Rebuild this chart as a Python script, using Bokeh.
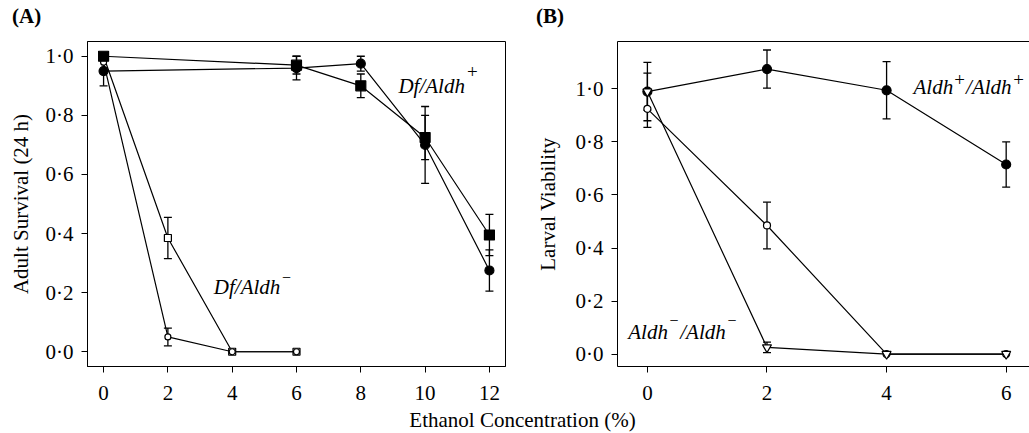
from bokeh.plotting import figure
from bokeh.models import (ColumnDataSource, Whisker, TeeHead, FixedTicker,
                          CustomJSTickFormatter, Label, LinearAxis, Div, Range1d)
from bokeh.layouts import row, column
from bokeh.embed import file_html
from bokeh.resources import INLINE

FONT = "Liberation Serif"

# ---------------- data: panel A (adult survival, 24 h) ----------------
a_ticks_x = [0, 2, 4, 6, 8, 10, 12]
a_plus_circ_x = [0, 6, 8, 10, 12]
a_plus_circ_y = [0.95, 0.96, 0.975, 0.70, 0.275]
a_plus_circ_err = [0.05, 0.04, 0.025, 0.13, 0.07]
a_plus_sq_x = [0, 6, 8, 10, 12]
a_plus_sq_y = [1.0, 0.97, 0.90, 0.725, 0.395]
a_plus_sq_err = [0.0, 0.03, 0.04, 0.075, 0.07]
a_minus_circ_x = [0, 2, 4, 6]
a_minus_circ_y = [0.98, 0.05, 0.0, 0.0]
a_minus_circ_err = [0.0, 0.03, 0.0, 0.0]
a_minus_sq_x = [0, 2, 4, 6]
a_minus_sq_y = [1.0, 0.385, 0.0, 0.0]
a_minus_sq_err = [0.0, 0.07, 0.0, 0.0]

# ---------------- data: panel B (larval viability) ----------------
b_ticks_x = [0, 2, 4, 6]
b_plus_x = [0, 2, 4, 6]
b_plus_y = [0.99, 1.075, 0.995, 0.715]
b_plus_err = [0.11, 0.072, 0.108, 0.085]
b_minus_circ_x = [0, 2, 4, 6]
b_minus_circ_y = [0.925, 0.485, 0.0, 0.0]
b_minus_circ_err = [0.07, 0.088, 0.0, 0.0]
b_minus_tri_x = [0, 2, 4, 6]
b_minus_tri_y = [0.99, 0.025, 0.0, 0.0]
b_minus_tri_err = [0.07, 0.02, 0.0, 0.0]

y_ticks = [0.0, 0.2, 0.4, 0.6, 0.8, 1.0]

H = 380
TOP = 11
BOTTOM = 44
FS = "21px"


def style_axes(p, xticks, ylabel, ystand):
    for ax in (p.xaxis[0], p.yaxis[0]):
        ax.axis_line_color = "black"
        ax.axis_line_width = 1
        ax.major_tick_line_color = "black"
        ax.major_tick_line_width = 1
        ax.major_tick_out = 6
        ax.major_tick_in = 0
        ax.minor_tick_line_color = None
        ax.major_label_text_font = FONT
        ax.major_label_text_font_size = FS
        ax.major_label_text_color = "black"
        ax.axis_label_text_font = FONT
        ax.axis_label_text_font_size = FS
        ax.axis_label_text_font_style = "normal"
        ax.axis_label_text_color = "black"
    p.xaxis[0].ticker = FixedTicker(ticks=xticks)
    p.xaxis[0].major_label_standoff = 13
    p.yaxis[0].ticker = FixedTicker(ticks=y_ticks)
    p.yaxis[0].formatter = CustomJSTickFormatter(
        code="return tick.toFixed(1).replace('.', '\\u00b7');")
    p.yaxis[0].major_label_standoff = 8
    p.yaxis[0].axis_label = ylabel
    p.yaxis[0].axis_label_standoff = ystand
    p.grid.visible = False
    p.background_fill_color = "white"
    p.border_fill_color = "white"


def series(p, xs, ys, errs, marker, size, filled):
    p.line(xs, ys, line_color="black", line_width=1.2)
    keep = [i for i, e in enumerate(errs) if e > 0]
    if keep:
        src = ColumnDataSource(dict(
            x=[xs[i] for i in keep],
            upper=[ys[i] + errs[i] for i in keep],
            lower=[ys[i] - errs[i] for i in keep]))
        w = Whisker(base="x", upper="upper", lower="lower", source=src,
                    line_color="black", line_width=1.3,
                    upper_head=TeeHead(size=8, line_color="black", line_width=1.3),
                    lower_head=TeeHead(size=8, line_color="black", line_width=1.3))
        w.level = "underlay"
        p.add_layout(w)
    p.scatter(xs, ys, marker=marker, size=size,
              fill_color="black" if filled else "white",
              line_color="black", line_width=1.2)


def lab(p, x, y, text, size=FS, style="italic"):
    p.add_layout(Label(x=x, y=y, text=text, text_font=FONT, text_font_size=size,
                       text_font_style=style, text_color="black",
                       text_baseline="alphabetic", text_align="left"))


# ---------------- panel labels (A) / (B) ----------------
heading = Div(text=('<div style="position:relative;width:1029px;height:30px;'
                    'font-family:\'Liberation Serif\';font-size:21px;line-height:21px;'
                    'font-weight:bold;color:black;">'
                    '<span style="position:absolute;left:12px;top:6px;">(A)</span>'
                    '<span style="position:absolute;left:536px;top:6px;">(B)</span>'
                    '</div>'),
              width=1029, height=30, margin=0)

# ---------------- panel A ----------------
pa = figure(width=530, height=H, x_range=Range1d(-0.5, 12.5), y_range=Range1d(-0.05, 1.05),
            output_backend="svg", toolbar_location=None,
            min_border_left=87, min_border_right=25, min_border_top=TOP,
            min_border_bottom=BOTTOM)
pa.outline_line_color = "black"
pa.outline_line_width = 1
style_axes(pa, a_ticks_x, "Adult Survival (24 h)", 10)

series(pa, a_minus_sq_x, a_minus_sq_y, a_minus_sq_err, "square", 7, False)
series(pa, a_minus_circ_x, a_minus_circ_y, a_minus_circ_err, "circle", 6, False)
series(pa, a_plus_circ_x, a_plus_circ_y, a_plus_circ_err, "circle", 9, True)
series(pa, a_plus_sq_x, a_plus_sq_y, a_plus_sq_err, "square", 10, True)

lab(pa, 9.17, 0.90, "Df/Aldh")
lab(pa, 11.30, 0.949, "+", "19px", "normal")
lab(pa, 3.43, 0.22, "Df/Aldh")
lab(pa, 5.55, 0.252, "\u2212", "16px", "normal")

# ---------------- panel B ----------------
pb = figure(width=499, height=H, x_range=Range1d(-0.5, 6.39), y_range=Range1d(-0.047, 1.179),
            output_backend="svg", toolbar_location=None,
            min_border_left=87, min_border_right=0, min_border_top=TOP,
            min_border_bottom=BOTTOM)
pb.outline_line_color = None
style_axes(pb, b_ticks_x, "Larval Viability", 13)
top_ax = LinearAxis(ticker=FixedTicker(ticks=[]), axis_line_color="black",
                    major_tick_line_color=None, minor_tick_line_color=None,
                    major_tick_out=0, major_tick_in=0, major_label_standoff=0,
                    axis_label_standoff=0)
pb.add_layout(top_ax, "above")

series(pb, b_plus_x, b_plus_y, b_plus_err, "circle", 9, True)
series(pb, b_minus_circ_x, b_minus_circ_y, b_minus_circ_err, "circle", 7, False)
series(pb, b_minus_tri_x, b_minus_tri_y, b_minus_tri_err, "inverted_triangle", 9, False)

lab(pb, 4.45, 1.009, "Aldh")
lab(pb, 5.13, 1.037, "+", "19px", "normal")
lab(pb, 5.33, 1.009, "/Aldh")
lab(pb, 6.12, 1.037, "+", "19px", "normal")
lab(pb, -0.32, 0.083, "Aldh")
lab(pb, 0.37, 0.126, "\u2212", "16px", "normal")
lab(pb, 0.55, 0.083, "/Aldh")
lab(pb, 1.34, 0.126, "\u2212", "16px", "normal")

xlabel = Div(text=('<div style="width:1029px;box-sizing:border-box;padding-left:16px;'
                   'text-align:center;font-family:\'Liberation Serif\';'
                   'font-size:21px;line-height:20px;color:black;">'
                   'Ethanol Concentration (%)</div>'),
             width=1029, height=23, margin=0)

layout = column(heading, row(pa, pb), xlabel)
open("out.html", "w").write(file_html(layout, INLINE))
